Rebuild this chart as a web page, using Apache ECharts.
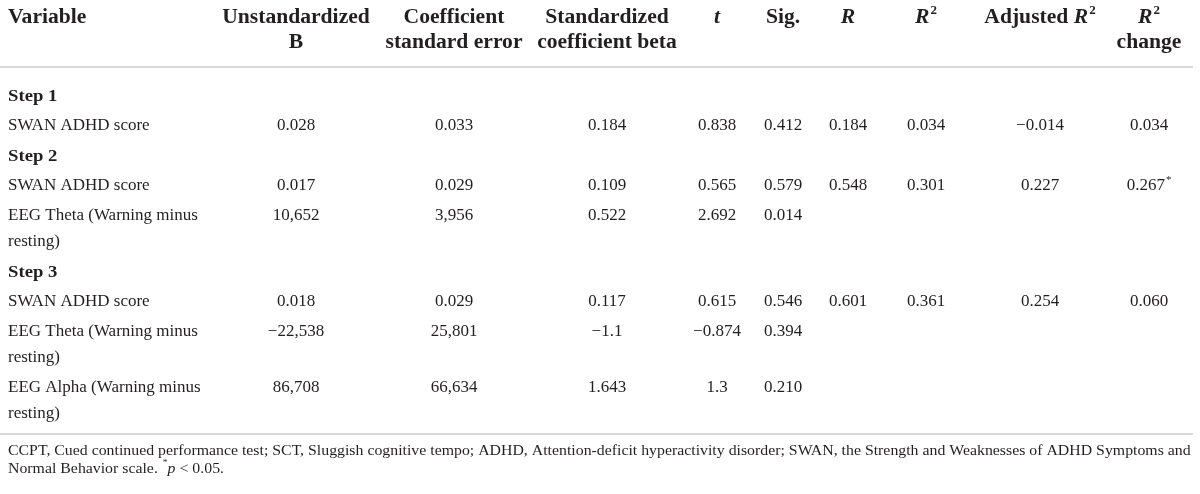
<!DOCTYPE html>
<html>
<head>
<meta charset="utf-8">
<script src="https://cdn.jsdelivr.net/npm/echarts@6/dist/echarts.min.js"></script>
<style>
html,body{margin:0;padding:0;background:#fff;}
#table{width:1200px;height:494px;}
</style>
</head>
<body>
<div id="table"></div>
<script>
// table contents
var headerLines = [
    ['Variable'],
    ['Unstandardized', 'B'],
    ['Coefficient', 'standard error'],
    ['Standardized', 'coefficient beta'],
    ['{i|t}'],
    ['Sig.'],
    ['{i|R}'],
    ['{i|R}{sup|2}'],
    ['Adjusted {i|R}{sup|2}'],
    ['{i|R}{sup|2}', 'change']
];
var steps = ['Step 1', 'Step 2', 'Step 3'];
var rowStep = [0, 1, 1, 2, 2, 2];
var rowVariable = [
    ['SWAN ADHD score'],
    ['SWAN ADHD score'],
    ['EEG Theta (Warning minus', 'resting)'],
    ['SWAN ADHD score'],
    ['EEG Theta (Warning minus', 'resting)'],
    ['EEG Alpha (Warning minus', 'resting)']
];
var unstdB   = ['0.028', '0.017', '10,652', '0.018', '\u221222,538', '86,708'];
var coefSE   = ['0.033', '0.029', '3,956', '0.029', '25,801', '66,634'];
var stdBeta  = ['0.184', '0.109', '0.522', '0.117', '\u22121.1', '1.643'];
var tValue   = ['0.838', '0.565', '2.692', '0.615', '\u22120.874', '1.3'];
var sigValue = ['0.412', '0.579', '0.014', '0.546', '0.394', '0.210'];
var rValue   = ['0.184', '0.548', '', '0.601', '', ''];
var r2Value  = ['0.034', '0.301', '', '0.361', '', ''];
var adjR2    = ['\u22120.014', '0.227', '', '0.254', '', ''];
var r2Change = ['0.034', '0.267{sup|*}', '', '0.060', '', ''];
var footnote = [
    'CCPT, Cued continued performance test; SCT, Sluggish cognitive tempo; ADHD, Attention-deficit hyperactivity disorder; SWAN, the Strength and Weaknesses of ADHD Symptoms and',
    'Normal Behavior scale. {sup|*}{i|p} < 0.05.'
];

var valueCols = [unstdB, coefSE, stdBeta, tValue, sigValue, rValue, r2Value, adjR2, r2Change];
var colX = [8, 296, 454, 607, 717, 783, 848, 926, 1040, 1149];

var FONT = '"Liberation Serif", "DejaVu Serif", serif';
var INK = '#231f20';
var RULE = '#d9d9d9';

function richFor(size, bold) {
    var w = bold ? 'bold' : 'normal';
    return {
        i: {fontFamily: FONT, fontSize: size, fontWeight: w, fontStyle: 'italic', fill: INK, lineHeight: size + 6},
        sup: {fontFamily: FONT, fontSize: Math.round(size * 0.62), fontWeight: w, fill: INK, verticalAlign: 'top', lineHeight: size + 6, padding: [0, 0, 0, 1]}
    };
}

// sx: horizontal stretch so Liberation Serif gets closer to the wider original face
function txt(s, x, y, size, bold, align, sx) {
    return {
        type: 'text',
        x: x, y: y,
        scaleX: sx || 1,
        style: {
            text: s,
            fontFamily: FONT,
            fontSize: size,
            fontWeight: bold ? 'bold' : 'normal',
            fill: INK,
            align: align || 'center',
            verticalAlign: 'middle',
            lineHeight: size + 6,
            rich: richFor(size, bold)
        }
    };
}

var els = [];

// header
headerLines.forEach(function (lines, c) {
    lines.forEach(function (s, k) {
        els.push(txt(s, colX[c], 18 + k * 25, 20, true, c === 0 ? 'left' : 'center', 1.08));
    });
});
els.push({type: 'line', shape: {x1: 0, y1: 67, x2: 1193, y2: 67}, style: {stroke: RULE, lineWidth: 2}});

// body
var y = 97;
var lastStep = -1;
rowVariable.forEach(function (lines, r) {
    if (rowStep[r] !== lastStep) {
        if (lastStep >= 0) y += 1;
        els.push(txt(steps[rowStep[r]], colX[0], y, 17, true, 'left', 1.1));
        lastStep = rowStep[r];
        y += 29;
    }
    lines.forEach(function (s, k) {
        els.push(txt(s, colX[0], y + k * 26, 17, false, 'left'));
    });
    valueCols.forEach(function (col, c) {
        if (col[r]) els.push(txt(col[r], colX[c + 1], y, 17, false, 'center'));
    });
    y += 30 + (lines.length - 1) * 26;
});

els.push({type: 'line', shape: {x1: 0, y1: 434, x2: 1193, y2: 434}, style: {stroke: RULE, lineWidth: 2}});

footnote.forEach(function (s, k) {
    els.push(txt(s, 8, 451 + k * 18, 15, false, 'left', 1.055));
});

var chart = echarts.init(document.getElementById('table'));
chart.setOption({
    backgroundColor: '#fff',
    animation: false,
    graphic: {elements: els}
});
</script>
</body>
</html>
